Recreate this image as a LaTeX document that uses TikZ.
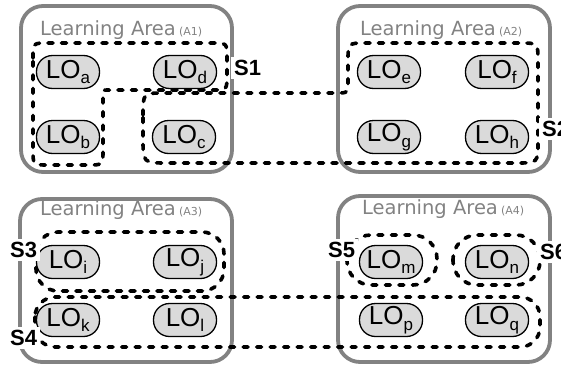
\documentclass[tikz,border=0pt]{standalone}
\usepackage{fontspec}
\setmainfont{Liberation Sans}
\newfontfamily\titlefont{DejaVu Sans}
\definecolor{areagray}{RGB}{130,130,130}
\definecolor{lofill}{RGB}{218,218,218}
\newcommand{\lotext}[1]{LO\raisebox{-0.22em}{\fontsize{17}{17}\selectfont #1}}
\newcommand{\areatitle}[1]{{\fontsize{19.5}{20}\selectfont Learning Area} {\fontsize{11}{11}\selectfont (#1)}}
\begin{document}
\begin{tikzpicture}[x=1pt,y=-1pt,
  areabox/.style={draw=areagray, line width=3.8pt, rounded corners=22pt},
  areatitlestyle/.style={anchor=base west, inner sep=0pt, text=areagray, font=\titlefont},
  lobox/.style={draw=black, line width=1.3pt, fill=lofill, rounded corners=16pt,
    minimum width=63pt, minimum height=33pt, inner sep=0pt,
    font=\fontsize{26}{26}\selectfont},
  sline/.style={draw=black, line width=3.6pt, dash pattern=on 5pt off 8.5pt, line cap=round},
  slabel/.style={fill=white, inner sep=3pt, anchor=west,
    font=\fontsize{22}{22}\selectfont\bfseries}]
\useasboundingbox (0,0) rectangle (561,364);
% learning areas
\draw[areabox] (21,6) rectangle (232,172);
\draw[areabox] (338,6) rectangle (550,172);
\draw[areabox] (20,199) rectangle (232,362);
\draw[areabox] (338,196) rectangle (550,362);
\node[areatitlestyle] (t1) at (40,35) {\areatitle{A1}};
\node[areatitlestyle] (t2) at (360,35) {\areatitle{A2}};
\node[areatitlestyle] (t3) at (40,215) {\areatitle{A3}};
\node[areatitlestyle] (t4) at (362,214) {\areatitle{A4}};
% sets
\draw[sline] (33,58) .. controls (33,43) .. (48,43) -- (212,43)
  .. controls (227,43) .. (227,58) -- (227,75) .. controls (227,90) .. (212,90)
  -- (108,90) .. controls (103,90) .. (103,95) -- (103,150)
  .. controls (103,165) .. (88,165) -- (48,165) .. controls (33,165) .. (33,150) -- cycle;
\draw[sline] (143,115) .. controls (143,93) .. (165,93) -- (336,93)
  .. controls (348,93) .. (348,81) -- (348,61) .. controls (348,43) .. (366,43)
  -- (520,43) .. controls (538,43) .. (538,61) -- (538,141)
  .. controls (538,163) .. (516,163) -- (168,163) .. controls (143,163) .. (143,138) -- cycle;
\draw[sline, rounded corners=22pt] (36,232) rectangle (224,291);
\draw[sline, rounded corners=20pt] (35,297) rectangle (540,347);
\draw[sline, rounded corners=24pt] (347,235) rectangle (437,285);
\draw[sline, rounded corners=24pt] (453,235) rectangle (540,285);
% learning objects
\node[lobox] (a) at (68,72) {\lotext{a}};
\node[lobox] (d) at (185,72) {\lotext{d}};
\node[lobox] (b) at (68,137) {\lotext{b}};
\node[lobox] (c) at (184,137) {\lotext{c}};
\node[lobox] (e) at (389,72) {\lotext{e}};
\node[lobox] (f) at (497,72) {\lotext{f}};
\node[lobox] (g) at (389,137) {\lotext{g}};
\node[lobox] (h) at (497,137) {\lotext{h}};
\node[lobox] (i) at (68,262) {\lotext{i}};
\node[lobox] (j) at (185,262) {\lotext{j}};
\node[lobox] (k) at (68,320) {\lotext{k}};
\node[lobox] (l) at (185,320) {\lotext{l}};
\node[lobox] (m) at (391,262) {\lotext{m}};
\node[lobox] (n) at (497,262) {\lotext{n}};
\node[lobox] (p) at (391,320) {\lotext{p}};
\node[lobox] (q) at (497,320) {\lotext{q}};
% set labels
\node[slabel] (s1) at (231,68) {S1};
\node[slabel] (s2) at (539,129) {S2};
\node[slabel] (s3) at (7,250) {S3};
\node[slabel] (s4) at (7,338) {S4};
\node[slabel] (s5) at (325,250) {S5};
\node[slabel] (s6) at (537,252) {S6};
\end{tikzpicture}
\end{document}
